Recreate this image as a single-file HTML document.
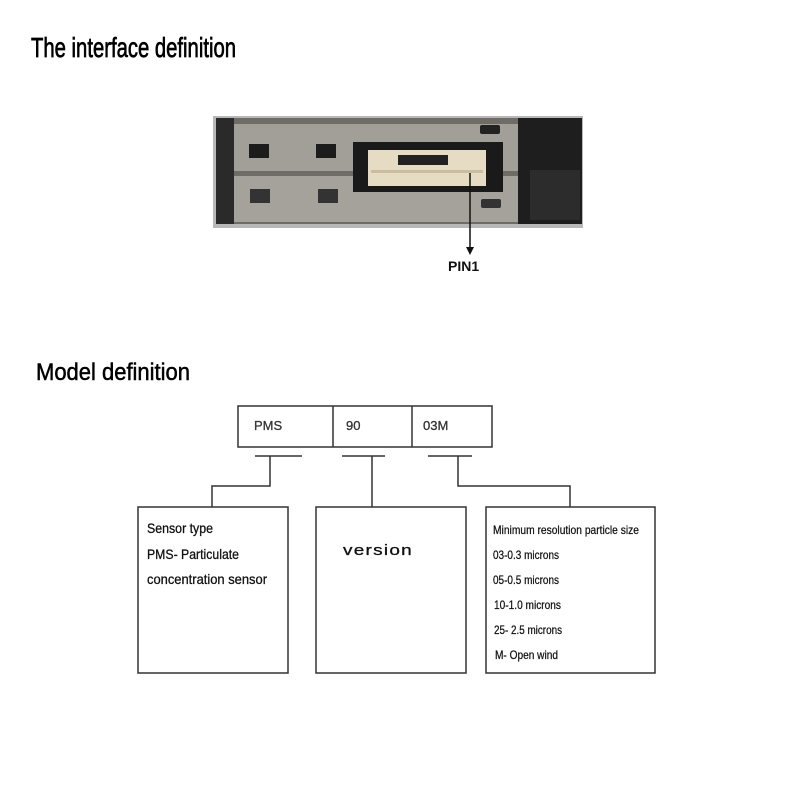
<!DOCTYPE html>
<html><head><meta charset="utf-8"><style>html,body{margin:0;padding:0;background:#fff}svg{display:block}</style></head>
<body>
<svg width="800" height="800" viewBox="0 0 800 800" xmlns="http://www.w3.org/2000/svg" font-family="Liberation Sans, sans-serif">
<rect width="800" height="800" fill="#fff"/>
<text x="31" y="57" font-size="28" textLength="205" lengthAdjust="spacingAndGlyphs" stroke="#000" stroke-width="0.7">The interface definition</text>
<!-- sensor photo -->
<rect x="213" y="116" width="370" height="112" fill="#b8b8b8"/>
<rect x="216" y="118" width="302" height="106" fill="#6f6b66"/>
<rect x="232" y="124" width="286" height="47" fill="#a29e98"/>
<rect x="232" y="176" width="286" height="46" fill="#a5a19b"/>
<rect x="216" y="118" width="18" height="106" fill="#2a2a2a"/>
<rect x="518" y="118" width="64" height="106" fill="#1e1e1e"/>
<rect x="530" y="170" width="50" height="50" fill="#2c2c2c"/>
<rect x="353" y="142" width="150" height="50" fill="#1a1a1a"/>
<rect x="368" y="150" width="118" height="36" fill="#e6dcc4"/>
<rect x="398" y="155" width="50" height="10" fill="#222"/>
<rect x="371" y="170" width="112" height="3" fill="#c9bda0"/>
<rect x="249" y="144" width="20" height="14" fill="#1c1c1c"/>
<rect x="316" y="144" width="20" height="14" fill="#1c1c1c"/>
<rect x="250" y="189" width="20" height="14" fill="#333"/>
<rect x="318" y="189" width="20" height="14" fill="#333"/>
<rect x="480" y="125" width="20" height="9" rx="2" fill="#222"/>
<rect x="481" y="199" width="20" height="9" rx="2" fill="#333"/>
<line x1="470" y1="173" x2="470" y2="249" stroke="#111" stroke-width="1.5"/>
<polygon points="466,247 474,247 470,255" fill="#111"/>
<text x="448" y="271" font-size="14" font-weight="bold" fill="#111">PIN1</text>

<text x="36" y="380" font-size="24" textLength="154" lengthAdjust="spacingAndGlyphs" stroke="#000" stroke-width="0.5">Model definition</text>
<g stroke="#333" stroke-width="1.5" fill="none">
<rect x="238" y="406" width="254" height="41"/>
<line x1="333" y1="406" x2="333" y2="447"/>
<line x1="412" y1="406" x2="412" y2="447"/>
<line x1="255" y1="456" x2="302" y2="456"/>
<line x1="342" y1="456" x2="385" y2="456"/>
<line x1="428" y1="456" x2="472" y2="456"/>
<polyline points="270,456 270,486 212,486 212,507"/>
<line x1="372" y1="456" x2="372" y2="507"/>
<polyline points="458,456 458,486 570,486 570,507"/>
<rect x="138" y="507" width="150" height="166"/>
<rect x="316" y="507" width="150" height="166"/>
<rect x="486" y="507" width="169" height="166"/>
</g>
<g font-size="13" fill="#333" stroke="#333" stroke-width="0.3">
<text x="254" y="430">PMS</text>
<text x="346" y="430">90</text>
<text x="423" y="430">03M</text>
</g>
<g font-size="14" fill="#111" stroke="#111" stroke-width="0.3">
<text x="147" y="533" textLength="66" lengthAdjust="spacingAndGlyphs">Sensor type</text>
<text x="147" y="559" textLength="92" lengthAdjust="spacingAndGlyphs">PMS- Particulate</text>
<text x="147" y="584" textLength="120" lengthAdjust="spacingAndGlyphs">concentration sensor</text>
<text x="343" y="555" font-size="15" textLength="70" lengthAdjust="spacingAndGlyphs" letter-spacing="1">version</text>
</g>
<g font-size="12" fill="#111" stroke="#111" stroke-width="0.25">
<text x="493" y="534" textLength="146" lengthAdjust="spacingAndGlyphs">Minimum resolution particle size</text>
<text x="493" y="559" textLength="66" lengthAdjust="spacingAndGlyphs">03-0.3 microns</text>
<text x="493" y="584" textLength="66" lengthAdjust="spacingAndGlyphs">05-0.5 microns</text>
<text x="494" y="609" textLength="67" lengthAdjust="spacingAndGlyphs">10-1.0 microns</text>
<text x="494" y="634" textLength="68" lengthAdjust="spacingAndGlyphs">25- 2.5 microns</text>
<text x="495" y="659" textLength="63" lengthAdjust="spacingAndGlyphs">M- Open wind</text>
</g>
</svg>
</body></html>
